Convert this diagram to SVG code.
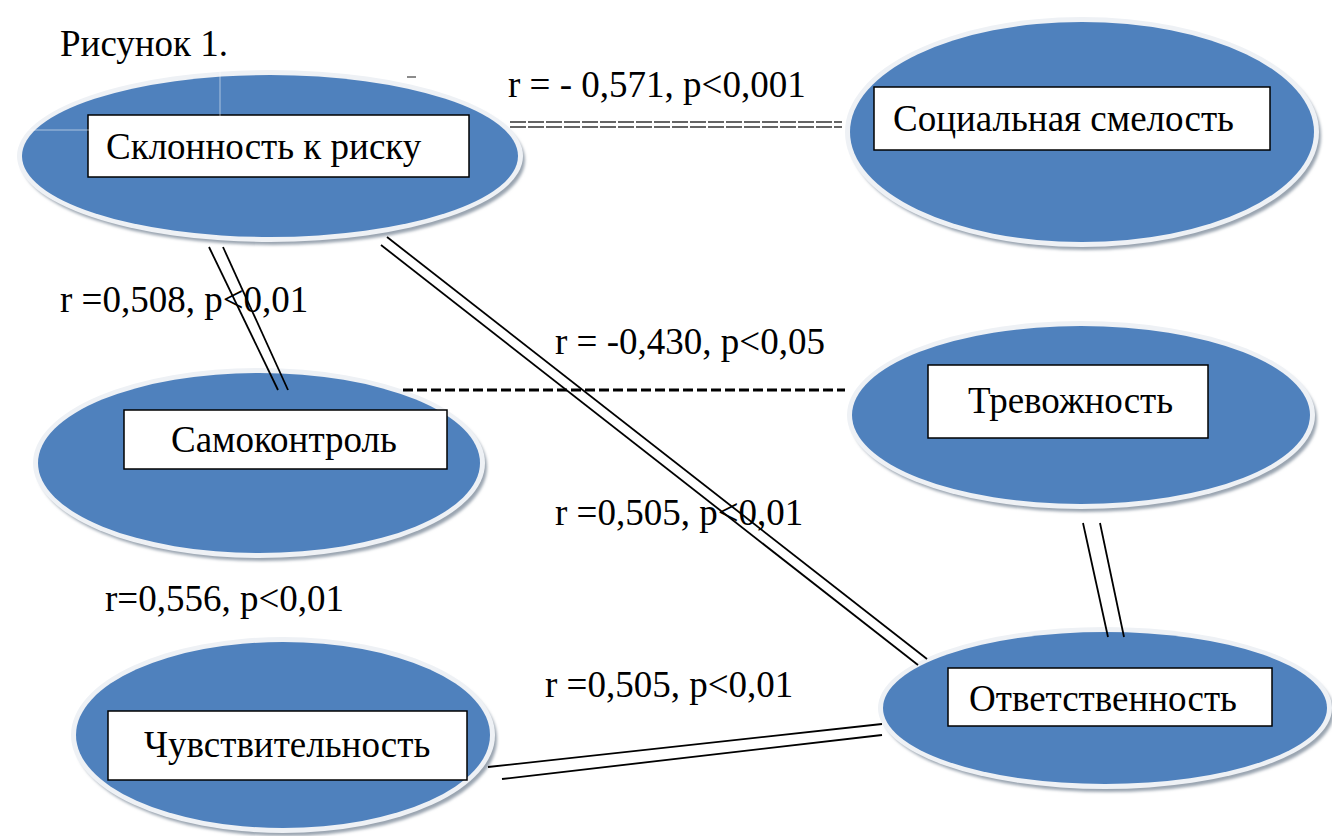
<svg xmlns="http://www.w3.org/2000/svg" width="1332" height="836" viewBox="0 0 1332 836" font-family="Liberation Serif, Times New Roman, serif">
<defs>
<filter id="blur" x="-10%" y="-10%" width="120%" height="120%"><feGaussianBlur stdDeviation="1.6"/></filter>
<style>
.shadow{fill:#9aa4b0;filter:url(#blur)}
.rim{fill:#eef1f5}
.blue{fill:#4f81bd}
.box{fill:#ffffff;stroke:#000000;stroke-width:1.5}
.t{font-family:'Liberation Serif', 'Times New Roman', serif;font-size:37px;fill:#000000}
.c{stroke:#000000;stroke-width:1.8;fill:none}
.d{stroke:#000000;stroke-width:2.8;stroke-dasharray:10 4;fill:none}
.dd{stroke:#333333;stroke-width:1.3;stroke-dasharray:16 2;fill:none}
</style>
</defs>
<rect x="0" y="0" width="1332" height="836" fill="#ffffff"/>

<text class="t" x="60" y="56">Рисунок 1.</text>

<g id="node-risk">
<ellipse class="shadow" cx="273" cy="160" rx="252" ry="85"/>
<ellipse class="rim" cx="270" cy="156" rx="253" ry="86"/>
<ellipse class="blue" cx="270" cy="156" rx="248" ry="81"/>
<rect class="box" x="88" y="115" width="381" height="62"/>
<text class="t" x="106" y="159">Склонность к риску</text>
</g>

<g id="node-social">
<ellipse class="shadow" cx="1085" cy="136" rx="236" ry="114"/>
<ellipse class="rim" cx="1082" cy="132" rx="237" ry="115"/>
<ellipse class="blue" cx="1082" cy="132" rx="232" ry="110"/>
<rect class="box" x="874" y="87" width="396" height="63"/>
<text class="t" x="893" y="131">Социальная смелость</text>
</g>

<g id="node-selfcontrol">
<ellipse class="shadow" cx="262" cy="467" rx="225" ry="94"/>
<ellipse class="rim" cx="259" cy="463" rx="226" ry="95"/>
<ellipse class="blue" cx="259" cy="463" rx="221" ry="90"/>
<rect class="box" x="124" y="410" width="323" height="59"/>
<text class="t" x="171" y="452">Самоконтроль</text>
</g>

<g id="node-anxiety">
<ellipse class="shadow" cx="1084" cy="419" rx="233" ry="93"/>
<ellipse class="rim" cx="1081" cy="415" rx="234" ry="94"/>
<ellipse class="blue" cx="1081" cy="415" rx="229" ry="89"/>
<rect class="box" x="928" y="365" width="280" height="73"/>
<text class="t" x="968" y="413">Тревожность</text>
</g>

<g id="node-responsibility">
<ellipse class="shadow" cx="1108" cy="712" rx="226" ry="80"/>
<ellipse class="rim" cx="1105" cy="708" rx="227" ry="81"/>
<ellipse class="blue" cx="1105" cy="708" rx="222" ry="76"/>
<rect class="box" x="948" y="668" width="324" height="58"/>
<text class="t" x="969" y="711">Ответственность</text>
</g>

<g id="node-sensitivity">
<ellipse class="shadow" cx="286" cy="739" rx="211" ry="97"/>
<ellipse class="rim" cx="283" cy="735" rx="212" ry="98"/>
<ellipse class="blue" cx="283" cy="735" rx="207" ry="93"/>
<rect class="box" x="108" y="711" width="359" height="69"/>
<text class="t" x="144" y="757">Чувствительность</text>
</g>

<g id="artifacts" stroke="#ffffff" stroke-opacity="0.35" stroke-width="1.5" fill="none">
<path d="M20 130 H220 V60"/>
<line x1="407" y1="77" x2="416" y2="77" stroke="#666666" stroke-opacity="1"/>
</g>

<g id="labels">
<text class="t" x="508" y="97">r = - 0,571, p&lt;0,001</text>
<text class="t" x="60" y="312">r =0,508, p&lt;0,01</text>
<text class="t" x="555" y="354">r = -0,430, p&lt;0,05</text>
<text class="t" x="555" y="525">r =0,505, p&lt;0,01</text>
<text class="t" x="105" y="611">r=0,556, p&lt;0,01</text>
<text class="t" x="545" y="697">r =0,505, p&lt;0,01</text>
</g>

<g id="connectors">
<line class="dd" x1="510" y1="122" x2="842" y2="122"/>
<line class="dd" x1="510" y1="127" x2="842" y2="127"/>
<line class="c" x1="209" y1="247" x2="278" y2="390"/>
<line class="c" x1="223" y1="247" x2="288" y2="390"/>
<line class="c" x1="387" y1="237" x2="927" y2="659"/>
<line class="c" x1="381" y1="245" x2="918" y2="665"/>
<line class="d" x1="403" y1="390" x2="845" y2="390"/>
<line class="c" x1="1083" y1="523" x2="1108" y2="637"/>
<line class="c" x1="1100" y1="523" x2="1124" y2="637"/>
<line class="c" x1="488" y1="767" x2="882" y2="724"/>
<line class="c" x1="502" y1="779" x2="882" y2="735"/>
</g>
</svg>
